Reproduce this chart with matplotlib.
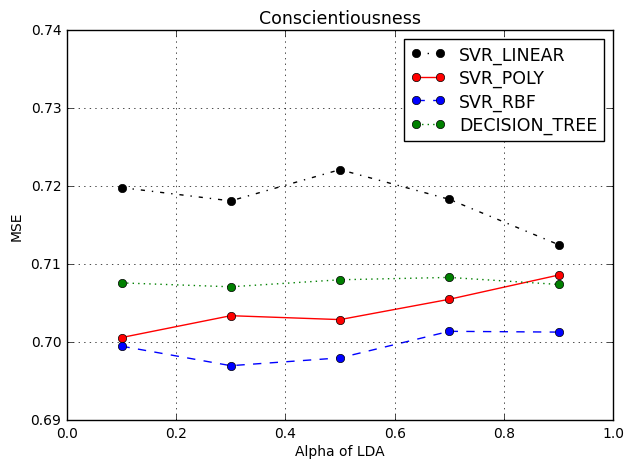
import matplotlib
matplotlib.use('Agg')
import matplotlib.pyplot as plt

plt.style.use('classic')

alpha = [0.1, 0.3, 0.5, 0.7, 0.9]
svr_linear = [0.7198, 0.7181, 0.7221, 0.7183, 0.7125]
svr_poly = [0.7006, 0.7034, 0.7029, 0.7055, 0.7086]
svr_rbf = [0.6995, 0.6970, 0.6980, 0.7014, 0.7013]
decision_tree = [0.7076, 0.7071, 0.7080, 0.7083, 0.7074]

fig, ax = plt.subplots(figsize=(6.25, 4.6), dpi=100)
fig.patch.set_facecolor('white')

ax.plot(alpha, svr_linear, 'ko-.', label='SVR_LINEAR', markersize=6)
ax.plot(alpha, svr_poly, 'ro-', label='SVR_POLY', markersize=6)
ax.plot(alpha, svr_rbf, 'bo--', label='SVR_RBF', markersize=6)
ax.plot(alpha, decision_tree, 'go:', label='DECISION_TREE', markersize=6)

ax.set_xlim(0, 1.0)
ax.set_ylim(0.69, 0.74)
ax.grid(True)
ax.tick_params(labelsize=10)
ax.set_title('Conscientiousness', fontsize=12.5)
ax.set_xlabel('Alpha of LDA', fontsize=10, labelpad=3)
ax.set_ylabel('MSE', fontsize=10)
ax.legend(loc='upper right', fontsize=12.5, numpoints=2, labelspacing=0.3)

fig.subplots_adjust(left=0.107, right=0.981, top=0.933, bottom=0.084)
fig.savefig('out.png', dpi=100, facecolor='white')
